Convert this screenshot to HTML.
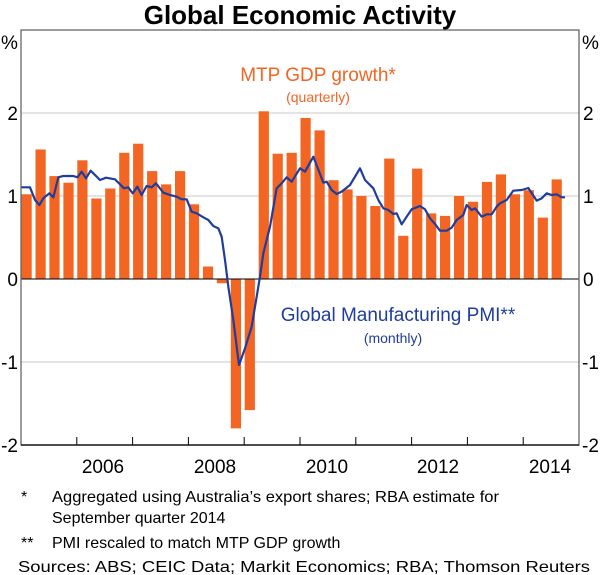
<!DOCTYPE html>
<html><head><meta charset="utf-8"><style>
html,body{margin:0;padding:0;background:#fff;}
svg{display:block;font-family:"Liberation Sans",Arial,sans-serif;}
</style></head><body>
<svg width="600" height="575" viewBox="0 0 600 575" xmlns="http://www.w3.org/2000/svg">
<text x="300" y="24" text-anchor="middle" font-size="26" font-weight="bold" fill="#000">Global Economic Activity</text>
<g stroke="#c8c8c8" stroke-width="1">
<line x1="21" y1="113" x2="579" y2="113"/>
<line x1="21" y1="196" x2="579" y2="196"/>
<line x1="21" y1="362" x2="579" y2="362"/>
</g>
<g fill="#f26522">
<rect x="21.5" y="194.3" width="10.2" height="84.7"/>
<rect x="35.5" y="149.5" width="10.2" height="129.5"/>
<rect x="49.4" y="176.1" width="10.2" height="102.9"/>
<rect x="63.4" y="182.7" width="10.2" height="96.3"/>
<rect x="77.3" y="160.3" width="10.2" height="118.7"/>
<rect x="91.3" y="198.5" width="10.2" height="80.5"/>
<rect x="105.2" y="188.5" width="10.2" height="90.5"/>
<rect x="119.2" y="152.8" width="10.2" height="126.2"/>
<rect x="133.1" y="143.7" width="10.2" height="135.3"/>
<rect x="147.1" y="171.1" width="10.2" height="107.9"/>
<rect x="161.0" y="184.4" width="10.2" height="94.6"/>
<rect x="175.0" y="171.1" width="10.2" height="107.9"/>
<rect x="188.9" y="204.3" width="10.2" height="74.7"/>
<rect x="202.9" y="266.5" width="10.2" height="12.5"/>
<rect x="216.8" y="279" width="10.2" height="4.2"/>
<rect x="230.8" y="279" width="10.2" height="149.4"/>
<rect x="244.7" y="279" width="10.2" height="131.1"/>
<rect x="258.7" y="111.3" width="10.2" height="167.7"/>
<rect x="272.6" y="153.7" width="10.2" height="125.3"/>
<rect x="286.6" y="152.8" width="10.2" height="126.2"/>
<rect x="300.5" y="118.0" width="10.2" height="161.0"/>
<rect x="314.5" y="130.4" width="10.2" height="148.6"/>
<rect x="328.4" y="180.2" width="10.2" height="98.8"/>
<rect x="342.4" y="189.4" width="10.2" height="89.6"/>
<rect x="356.3" y="196" width="10.2" height="83"/>
<rect x="370.3" y="206.0" width="10.2" height="73.0"/>
<rect x="384.2" y="158.6" width="10.2" height="120.4"/>
<rect x="398.2" y="235.8" width="10.2" height="43.2"/>
<rect x="412.1" y="168.6" width="10.2" height="110.4"/>
<rect x="426.1" y="213.4" width="10.2" height="65.6"/>
<rect x="440.0" y="215.9" width="10.2" height="63.1"/>
<rect x="454.0" y="196" width="10.2" height="83"/>
<rect x="467.9" y="201.8" width="10.2" height="77.2"/>
<rect x="481.9" y="181.9" width="10.2" height="97.1"/>
<rect x="495.8" y="174.4" width="10.2" height="104.6"/>
<rect x="509.8" y="194.3" width="10.2" height="84.7"/>
<rect x="523.7" y="190.2" width="10.2" height="88.8"/>
<rect x="537.7" y="217.6" width="10.2" height="61.4"/>
<rect x="551.6" y="179.4" width="10.2" height="99.6"/>
</g>
<line x1="21" y1="279" x2="579" y2="279" stroke="#000" stroke-width="1"/>
<g transform="translate(0,100) scale(0.33333)">
<polyline fill="none" stroke="#1f3d9c" stroke-width="2.2" vector-effect="non-scaling-stroke" stroke-linejoin="round" points="
63,262 90,262 105,300 118,315 130,295 148,280 160,292 175,232 190,228 220,228 232,232 245,215 258,235 272,212 300,240 318,233 345,238 372,265 385,262 398,280 412,260 425,285 440,258 455,262 468,250 490,278 510,285 530,290 545,298 560,298 575,335 590,340 610,352 625,360 640,378 655,385 665,410 675,480 685,560 700,660 717,795 735,745 755,680 780,530 790,460 810,380 830,265 845,250 860,232 875,245 900,205
915,215 940,170 970,248 980,245 995,270 1010,282 1025,275 1050,255 1065,230 1080,205 1095,240 1120,265 1135,300 1150,325 1165,330 1180,342 1190,340 1205,373 1220,350 1235,328 1260,318 1275,328 1290,355 1305,372 1320,392 1340,392 1355,383 1370,360 1390,345 1400,315 1415,330 1425,325 1445,350 1460,343 1475,343 1490,320 1500,310 1520,300 1540,272 1565,270 1585,264 1610,302 1625,295 1640,280 1655,285 1670,283 1685,292 1695,292"/>
</g>
<rect x="21" y="30" width="558" height="415" fill="none" stroke="#666" stroke-width="1.3"/>
<line x1="21" y1="445" x2="579" y2="445" stroke="#000" stroke-width="1.3"/>
<g stroke="#000" stroke-width="1">
<line x1="76.8" y1="445" x2="76.8" y2="437"/><line x1="132.6" y1="445" x2="132.6" y2="437"/>
<line x1="188.4" y1="445" x2="188.4" y2="437"/><line x1="244.2" y1="445" x2="244.2" y2="437"/>
<line x1="300" y1="445" x2="300" y2="437"/><line x1="355.8" y1="445" x2="355.8" y2="437"/>
<line x1="411.6" y1="445" x2="411.6" y2="437"/><line x1="467.4" y1="445" x2="467.4" y2="437"/>
<line x1="523.2" y1="445" x2="523.2" y2="437"/>
</g>
<g font-size="19" fill="#000">
<text x="1" y="49">%</text><text x="582" y="49">%</text>
<text x="18" y="120" text-anchor="end">2</text><text x="18" y="203" text-anchor="end">1</text>
<text x="18" y="286" text-anchor="end">0</text><text x="18" y="369" text-anchor="end">-1</text>
<text x="18" y="452" text-anchor="end">-2</text>
<text x="583" y="120">2</text><text x="583" y="203">1</text><text x="583" y="286">0</text>
<text x="582" y="369">-1</text><text x="582" y="452">-2</text>
<text x="103" y="473" text-anchor="middle">2006</text><text x="215" y="473" text-anchor="middle">2008</text>
<text x="327" y="473" text-anchor="middle">2010</text><text x="438" y="473" text-anchor="middle">2012</text>
<text x="550" y="473" text-anchor="middle">2014</text>
</g>
<text x="318" y="81" text-anchor="middle" font-size="19" fill="#f26522">MTP GDP growth*</text>
<text x="318" y="102" text-anchor="middle" font-size="14" fill="#f26522">(quarterly)</text>
<text x="398" y="321" text-anchor="middle" font-size="19" fill="#1f3d9c">Global Manufacturing PMI**</text>
<text x="393" y="343" text-anchor="middle" font-size="14" fill="#1f3d9c">(monthly)</text>
<g font-size="16" fill="#000">
<text x="21" y="502">*</text>
<text x="52" y="502" textLength="447" lengthAdjust="spacingAndGlyphs">Aggregated using Australia’s export shares; RBA estimate for</text>
<text x="52" y="523">September quarter 2014</text>
<text x="21" y="548">**</text>
<text x="52" y="548">PMI rescaled to match MTP GDP growth</text>
<text x="18" y="572" textLength="572" lengthAdjust="spacingAndGlyphs">Sources:  ABS; CEIC Data; Markit Economics; RBA; Thomson Reuters</text>
</g>
</svg>
</body></html>
